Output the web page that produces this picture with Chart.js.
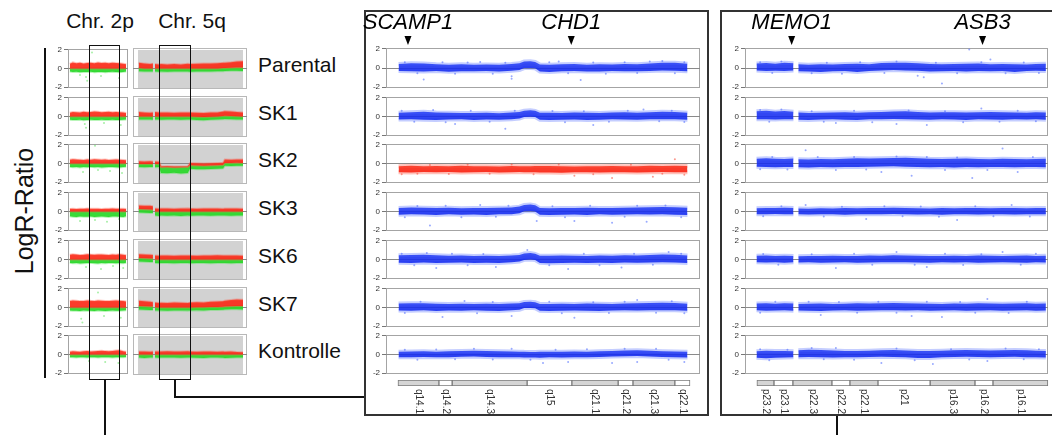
<!DOCTYPE html>
<html>
<head>
<meta charset="utf-8">
<script src="https://cdn.jsdelivr.net/npm/chart.js@4.4.1/dist/chart.umd.min.js"></script>
<style>
body{margin:0;width:1052px;height:435px;overflow:hidden;background:#fff;position:relative;font-family:"Liberation Sans",Arial,sans-serif;color:#111}
canvas{position:absolute}
.txt{position:absolute;white-space:nowrap;line-height:1}
.ln{position:absolute;background:#111}
.box{position:absolute;box-sizing:border-box}
</style>
</head>
<body>
<script>
// ==========================
// DATA
// ==========================
const rowNames = ["Parental","SK1","SK2","SK3","SK6","SK7","Kontrolle"];
const yTicks = [-2, 0, 2];
const columnTitles = ["Chr. 2p","Chr. 5q"];

// zoom panel 5q (middle)
const midGenes = ["SCAMP1","CHD1"];
const midGenePos = [7.0, 59.0];
const midBands = ["q14.1","q14.2","q14.3","q15","q21.1","q21.2","q21.3","q22.1"];
const midBandStart = [3.8,16.8,21.0,44.8,59.0,73.7,78.4,91.7];
const midBandEnd = [16.8,21.0,44.8,59.0,73.7,78.4,91.7,96.5];
const midBandGrey = [1,0,1,0,1,0,1,0];
const midPos = [4,8,12,16,20,24,28,32,36,40,42.5,44,46,47.5,49,52,56,60,64,68,72,76,80,84,88,92,96];
const midHi = [
  [0.42,0.50,0.48,0.40,0.36,0.40,0.34,0.38,0.36,0.42,0.50,0.68,0.72,0.65,0.38,0.36,0.40,0.42,0.35,0.40,0.38,0.42,0.40,0.48,0.55,0.56,0.45],
  [0.40,0.45,0.50,0.42,0.40,0.38,0.36,0.40,0.35,0.42,0.48,0.62,0.66,0.60,0.40,0.40,0.38,0.42,0.40,0.38,0.42,0.45,0.40,0.45,0.50,0.48,0.40],
  [-0.28,-0.25,-0.30,-0.26,-0.28,-0.24,-0.30,-0.28,-0.32,-0.26,-0.28,-0.30,-0.28,-0.27,-0.26,-0.26,-0.30,-0.32,-0.28,-0.30,-0.26,-0.30,-0.28,-0.24,-0.26,-0.25,-0.26],
  [0.38,0.42,0.40,0.36,0.40,0.35,0.38,0.36,0.40,0.42,0.52,0.70,0.74,0.66,0.36,0.35,0.36,0.38,0.40,0.36,0.38,0.40,0.42,0.45,0.48,0.45,0.40],
  [0.45,0.48,0.50,0.45,0.40,0.42,0.38,0.40,0.38,0.42,0.48,0.64,0.68,0.60,0.40,0.40,0.42,0.40,0.38,0.42,0.40,0.45,0.42,0.48,0.52,0.50,0.42],
  [0.42,0.45,0.44,0.40,0.38,0.40,0.36,0.40,0.38,0.42,0.46,0.58,0.62,0.56,0.38,0.38,0.40,0.38,0.42,0.40,0.38,0.42,0.45,0.48,0.50,0.48,0.40],
  [0.30,0.32,0.35,0.30,0.34,0.38,0.40,0.36,0.34,0.32,0.30,0.28,0.27,0.26,0.28,0.28,0.30,0.32,0.30,0.35,0.38,0.42,0.45,0.40,0.35,0.32,0.28]
];
const midLo = [
  [-0.30,-0.32,-0.36,-0.30,-0.38,-0.32,-0.34,-0.30,-0.36,-0.28,-0.20,0.00,0.02,-0.02,-0.35,-0.40,-0.34,-0.30,-0.35,-0.36,-0.30,-0.34,-0.32,-0.30,-0.26,-0.28,-0.34],
  [-0.32,-0.30,-0.34,-0.36,-0.32,-0.30,-0.36,-0.32,-0.34,-0.30,-0.22,-0.04,-0.02,-0.06,-0.34,-0.36,-0.34,-0.32,-0.36,-0.34,-0.30,-0.32,-0.35,-0.30,-0.28,-0.30,-0.34],
  [-0.92,-0.95,-0.90,-0.94,-0.90,-0.96,-0.92,-0.90,-0.95,-0.92,-0.90,-0.94,-0.92,-0.93,-0.95,-0.95,-0.98,-0.94,-0.92,-0.96,-0.94,-0.92,-0.95,-0.92,-0.90,-0.92,-0.92],
  [-0.34,-0.30,-0.32,-0.36,-0.30,-0.34,-0.32,-0.36,-0.30,-0.28,-0.18,0.02,0.06,0.00,-0.34,-0.38,-0.34,-0.32,-0.36,-0.30,-0.34,-0.32,-0.30,-0.32,-0.30,-0.34,-0.36],
  [-0.34,-0.36,-0.32,-0.38,-0.35,-0.32,-0.36,-0.34,-0.38,-0.30,-0.22,-0.04,0.00,-0.06,-0.36,-0.40,-0.36,-0.34,-0.38,-0.34,-0.36,-0.32,-0.34,-0.32,-0.30,-0.32,-0.36],
  [-0.32,-0.34,-0.30,-0.36,-0.32,-0.34,-0.30,-0.34,-0.36,-0.30,-0.24,-0.06,-0.04,-0.08,-0.34,-0.36,-0.34,-0.32,-0.34,-0.36,-0.32,-0.30,-0.32,-0.30,-0.28,-0.30,-0.34],
  [-0.28,-0.30,-0.26,-0.30,-0.28,-0.24,-0.22,-0.26,-0.28,-0.30,-0.30,-0.31,-0.32,-0.33,-0.34,-0.30,-0.32,-0.30,-0.28,-0.26,-0.22,-0.18,-0.16,-0.22,-0.26,-0.30,-0.32]
];
const midOut = [
  [[6,0.62],[10,-0.55],[12,-1.2],[18,0.6],[22,-0.58],[26,0.58],[30,0.65],[34,-0.6],[38,0.55],[40,-0.85],[40,-1.1],[52,0.6],[55,0.7],[58,-0.55],[62,-1.25],[66,0.58],[70,-0.6],[76,0.62],[80,-0.52],[84,0.7],[88,0.75],[92,-0.55],[95,0.6]],
  [[5,0.6],[9,-0.55],[15,0.7],[19,-0.6],[22,-0.8],[27,0.62],[33,-0.55],[38,-1.3],[41,0.6],[53,0.58],[57,-0.6],[63,0.55],[66,-0.9],[71,-0.55],[77,0.6],[82,0.75],[87,-0.5],[91,0.62],[95,-0.58]],
  [[5,-1.15],[10,-1.1],[14,-0.15],[20,-1.12],[26,-0.12],[33,-1.1],[40,-0.1],[47,-1.15],[55,-0.1],[60,-1.3],[66,-1.15],[72,-1.55],[78,-0.12],[85,-1.4],[88,-1.1],[92,0.45],[95,-1.2]],
  [[6,-0.6],[10,0.58],[14,-1.5],[19,0.6],[24,-0.62],[30,0.7],[35,-0.55],[39,0.6],[48,-1.0],[53,0.55],[57,-0.6],[60,-1.0],[65,0.6],[72,-1.2],[76,-0.55],[80,0.62],[83,-1.1],[89,0.65],[94,-0.6]],
  [[5,0.62],[9,-0.6],[13,0.68],[16,-0.9],[21,0.6],[26,-0.62],[31,0.58],[35,-0.8],[45,1.0],[52,-0.6],[58,-1.0],[63,0.6],[68,-0.6],[75,-0.85],[79,0.62],[85,-0.55],[90,0.8],[94,0.6]],
  [[6,-0.58],[11,0.6],[18,-1.0],[25,0.7],[29,-0.6],[34,0.58],[40,-0.9],[52,0.6],[56,-0.62],[60,-1.1],[66,0.55],[71,-0.58],[76,0.6],[80,0.8],[86,-0.55],[91,0.66],[95,-0.6]],
  [[6,0.5],[10,-0.55],[16,0.52],[22,-0.5],[28,0.6],[34,-0.52],[40,0.6],[46,-0.55],[50,-0.9],[54,0.5],[58,-0.8],[64,0.55],[72,-0.9],[76,0.62],[80,-0.8],[86,0.6],[90,-0.55],[95,-0.8]]
];

// zoom panel 2p (right)
const rightGenes = ["MEMO1","ASB3"];
const rightGenePos = [15.4, 78.4];
const rightBands = ["p23.2","p23.1","p22.3","p22.2","p22.1","p21","p16.3","p16.2","p16.1"];
const rightBandStart = [3.9,9.5,15.7,28.5,34.4,43.6,60.7,75.4,81.3];
const rightBandEnd = [9.5,15.7,28.5,34.4,43.6,60.7,75.4,81.3,99.3];
const rightBandGrey = [1,0,1,0,1,0,1,0,1];
const rightPos = [3.8,7,10,13,16,16.8,17.6,21,25,29,33,37,41,45,49,53,57,61,65,69,73,77,81,85,89,93,96,99.3];
const rightHi = [
  [0.48,0.52,0.45,0.55,0.50,null,0.40,0.36,0.40,0.38,0.42,0.45,0.40,0.52,0.56,0.55,0.50,0.42,0.40,0.42,0.45,0.48,0.40,0.44,0.40,0.38,0.42,0.45],
  [0.55,0.60,0.52,0.58,0.50,null,0.42,0.38,0.40,0.42,0.45,0.40,0.44,0.48,0.52,0.55,0.48,0.42,0.44,0.46,0.42,0.45,0.48,0.45,0.42,0.40,0.44,0.42],
  [0.50,0.55,0.50,0.48,0.52,null,0.45,0.42,0.48,0.45,0.50,0.55,0.52,0.55,0.58,0.60,0.55,0.50,0.48,0.50,0.52,0.48,0.45,0.50,0.48,0.45,0.48,0.50],
  [0.35,0.38,0.36,0.40,0.36,null,0.32,0.30,0.34,0.32,0.36,0.34,0.38,0.36,0.40,0.38,0.34,0.32,0.36,0.34,0.38,0.36,0.34,0.38,0.36,0.34,0.36,0.38],
  [0.40,0.42,0.38,0.40,0.38,null,0.34,0.36,0.38,0.40,0.36,0.38,0.42,0.40,0.44,0.42,0.40,0.38,0.36,0.40,0.38,0.42,0.40,0.38,0.40,0.42,0.38,0.40],
  [0.42,0.45,0.40,0.44,0.42,null,0.38,0.40,0.42,0.38,0.40,0.44,0.42,0.45,0.48,0.46,0.42,0.40,0.38,0.42,0.40,0.44,0.42,0.40,0.42,0.44,0.40,0.42],
  [0.35,0.40,0.36,0.38,0.34,null,0.45,0.50,0.48,0.42,0.38,0.36,0.40,0.45,0.48,0.42,0.38,0.36,0.40,0.45,0.48,0.46,0.42,0.45,0.48,0.44,0.40,0.38]
];
const rightLo = [
  [-0.26,-0.30,-0.28,-0.30,-0.25,null,-0.32,-0.36,-0.40,-0.34,-0.30,-0.40,-0.30,-0.24,-0.20,-0.25,-0.28,-0.36,-0.34,-0.30,-0.36,-0.30,-0.34,-0.30,-0.40,-0.30,-0.28,-0.30],
  [-0.28,-0.30,-0.32,-0.28,-0.30,null,-0.34,-0.36,-0.32,-0.30,-0.34,-0.36,-0.30,-0.28,-0.26,-0.28,-0.32,-0.34,-0.30,-0.32,-0.36,-0.30,-0.32,-0.34,-0.30,-0.32,-0.30,-0.34],
  [-0.35,-0.38,-0.40,-0.36,-0.38,null,-0.40,-0.42,-0.38,-0.40,-0.36,-0.38,-0.34,-0.32,-0.30,-0.34,-0.36,-0.40,-0.38,-0.42,-0.38,-0.40,-0.36,-0.38,-0.40,-0.36,-0.38,-0.40],
  [-0.28,-0.30,-0.26,-0.28,-0.30,null,-0.30,-0.32,-0.28,-0.30,-0.34,-0.30,-0.28,-0.30,-0.26,-0.28,-0.32,-0.30,-0.34,-0.30,-0.28,-0.32,-0.30,-0.28,-0.32,-0.30,-0.28,-0.30],
  [-0.30,-0.32,-0.30,-0.34,-0.30,null,-0.32,-0.30,-0.34,-0.32,-0.30,-0.34,-0.32,-0.30,-0.28,-0.30,-0.32,-0.34,-0.30,-0.32,-0.30,-0.34,-0.32,-0.30,-0.32,-0.34,-0.30,-0.32],
  [-0.30,-0.34,-0.32,-0.30,-0.34,null,-0.32,-0.34,-0.36,-0.32,-0.30,-0.34,-0.32,-0.30,-0.28,-0.32,-0.30,-0.34,-0.32,-0.30,-0.34,-0.32,-0.30,-0.34,-0.32,-0.30,-0.34,-0.32],
  [-0.35,-0.40,-0.34,-0.32,-0.30,null,-0.28,-0.26,-0.30,-0.32,-0.30,-0.28,-0.26,-0.24,-0.26,-0.30,-0.36,-0.38,-0.30,-0.26,-0.24,-0.26,-0.28,-0.26,-0.24,-0.28,-0.30,-0.32]
];
const rightOut = [
  [[5,0.62],[9,-0.5],[12,0.7],[22,-0.55],[27,0.55],[32,-0.6],[38,0.6],[46,-0.5],[50,0.68],[57,-0.8],[59,-0.95],[63,0.55],[65,-1.6],[70,-0.55],[74,1.95],[78,0.6],[81,0.9],[86,-0.55],[92,0.58],[97,-0.5]],
  [[5,0.7],[8,-0.55],[12,0.75],[22,0.55],[26,-0.55],[30,-0.7],[36,0.6],[42,-0.6],[50,-0.8],[54,0.65],[60,-0.9],[66,0.55],[72,-0.6],[78,0.85],[84,-0.55],[90,0.6],[96,-0.5]],
  [[5,-0.6],[9,0.7],[14,-0.65],[20,1.4],[24,0.68],[30,-0.7],[36,0.7],[40,-0.65],[45,-0.9],[50,0.75],[55,-1.3],[60,0.7],[66,-0.7],[70,0.65],[75,-1.55],[80,-0.68],[85,1.6],[90,-0.9],[95,0.7]],
  [[6,-0.5],[12,0.55],[20,0.7],[26,-0.52],[32,0.5],[40,-0.8],[46,0.55],[52,-0.5],[58,0.52],[64,-0.55],[70,-0.9],[76,0.55],[82,-0.5],[88,0.7],[94,-0.52]],
  [[6,0.58],[11,-0.55],[22,0.55],[30,-0.9],[36,0.6],[42,-0.55],[50,0.8],[56,-0.55],[60,-0.8],[66,0.6],[72,-0.58],[78,0.55],[85,0.8],[91,-0.55],[96,0.6]],
  [[5,-0.55],[10,0.6],[21,0.62],[25,-0.8],[31,0.58],[37,-0.55],[44,0.6],[50,-0.55],[55,-0.9],[60,0.62],[65,-1.0],[71,0.58],[76,-0.55],[80,0.9],[87,-0.58],[93,0.6]],
  [[5,0.55],[8,-0.6],[14,0.5],[22,0.68],[26,-0.5],[30,0.7],[36,-0.55],[45,-0.9],[50,0.65],[56,-0.6],[62,-1.0],[68,0.55],[74,-0.52],[80,-0.7],[86,0.65],[92,-0.5],[97,0.55]]
];

// overview chr 2p (small, left)
const p2Pos = [3,8,14,20,26,32,38,44,50,56,62,68,74,80,86,92,97];
const p2Base = [0,0,0,0,0,0,0,0,0,0,0,0,0,0,0,0,0];
const p2Top = [
  [0.50,0.65,0.55,0.60,0.52,0.58,0.62,0.55,0.65,0.58,0.60,0.55,0.62,0.58,0.55,0.50,0.45],
  [0.40,0.48,0.45,0.42,0.50,0.45,0.48,0.52,0.50,0.45,0.48,0.50,0.46,0.48,0.44,0.42,0.38],
  [0.40,0.45,0.42,0.40,0.38,0.42,0.40,0.44,0.42,0.40,0.42,0.38,0.40,0.42,0.40,0.38,0.35],
  [0.28,0.30,0.26,0.30,0.28,0.32,0.30,0.28,0.30,0.26,0.28,0.30,0.32,0.30,0.28,0.30,0.26],
  [0.50,0.55,0.52,0.48,0.50,0.55,0.52,0.50,0.54,0.52,0.50,0.48,0.52,0.50,0.55,0.50,0.45],
  [0.70,0.75,0.72,0.68,0.70,0.75,0.72,0.70,0.74,0.72,0.70,0.68,0.72,0.75,0.72,0.70,0.65],
  [0.30,0.35,0.32,0.30,0.34,0.38,0.32,0.35,0.38,0.40,0.36,0.34,0.38,0.42,0.45,0.35,0.30]
];
const p2Bot = [
  [-0.32,-0.38,-0.35,-0.40,-0.36,-0.38,-0.35,-0.40,-0.38,-0.36,-0.40,-0.38,-0.35,-0.38,-0.40,-0.36,-0.32],
  [-0.34,-0.36,-0.38,-0.35,-0.40,-0.36,-0.34,-0.38,-0.36,-0.35,-0.38,-0.36,-0.34,-0.38,-0.36,-0.35,-0.32],
  [-0.36,-0.40,-0.38,-0.42,-0.38,-0.40,-0.36,-0.40,-0.38,-0.42,-0.40,-0.38,-0.36,-0.40,-0.42,-0.38,-0.35],
  [-0.50,-0.55,-0.58,-0.52,-0.56,-0.55,-0.52,-0.58,-0.55,-0.52,-0.56,-0.58,-0.54,-0.52,-0.55,-0.58,-0.50],
  [-0.36,-0.40,-0.38,-0.42,-0.40,-0.38,-0.36,-0.40,-0.42,-0.38,-0.40,-0.38,-0.36,-0.40,-0.38,-0.40,-0.35],
  [-0.32,-0.35,-0.34,-0.36,-0.32,-0.35,-0.34,-0.36,-0.32,-0.35,-0.36,-0.34,-0.32,-0.35,-0.34,-0.32,-0.30],
  [-0.28,-0.30,-0.32,-0.28,-0.30,-0.32,-0.30,-0.28,-0.32,-0.30,-0.28,-0.30,-0.32,-0.30,-0.28,-0.30,-0.26]
];
const p2Out = [
  [[30,-0.9],[32,-1.3],[55,-0.8],[85,-1.0],[20,-0.7],[40,1.7]],
  [[28,-0.8],[30,-1.2],[60,-0.7],[88,-0.9]],
  [[25,-0.9],[50,-0.7],[70,-0.8],[90,-1.0],[45,1.9]],
  [[20,-1.0],[45,-0.9],[65,-1.1],[85,-0.8]],
  [[30,-0.8],[55,-1.0],[75,-0.7],[92,-0.9]],
  [[22,-1.2],[24,-1.6],[60,-0.9],[88,-1.1],[50,1.6]],
  [[35,-0.7],[62,-0.8],[84,-0.9]]
];

// overview chr 5q (small, left)
const q5Pos = [5,10,15,17.5,18.4,19.3,23,24.5,30,36,42,48,50,56,62,68,74,79,80.5,86,91,96.5];
const q5Top = [
  [0.60,0.50,0.45,0.50,null,0.45,0.42,0.45,0.40,0.45,0.42,0.48,0.45,0.48,0.52,0.50,0.55,0.58,0.60,0.65,0.72,0.75],
  [0.45,0.40,0.38,0.42,null,0.45,0.40,0.42,0.40,0.38,0.40,0.42,0.40,0.38,0.36,0.40,0.42,0.50,0.55,0.50,0.45,0.42],
  [0.22,0.20,0.22,0.20,null,0.20,0.18,-0.30,-0.28,-0.30,-0.32,-0.30,0.05,0.02,0.00,0.02,0.05,0.08,0.40,0.38,0.42,0.40],
  [0.62,0.60,0.58,0.55,null,0.30,0.28,0.30,0.32,0.28,0.30,0.32,0.30,0.28,0.30,0.32,0.30,0.28,0.30,0.32,0.30,0.28],
  [0.55,0.50,0.48,0.45,null,0.40,0.38,0.40,0.42,0.38,0.40,0.42,0.40,0.38,0.40,0.42,0.44,0.42,0.40,0.42,0.40,0.38],
  [0.70,0.65,0.60,0.55,null,0.50,0.45,0.48,0.45,0.50,0.48,0.45,0.50,0.55,0.52,0.58,0.62,0.65,0.70,0.78,0.82,0.80],
  [0.32,0.30,0.28,0.30,null,0.30,0.32,0.30,0.34,0.32,0.30,0.34,0.30,0.28,0.30,0.32,0.28,0.30,0.28,0.30,0.26,0.24]
];
const q5Base = [
  [0.05,0,0,0,null,0,0,0,0,0,0,0,0,0,0,0,0,0.05,0.05,0.08,0.10,0.10],
  [0,0,0,0,null,0,0,0,0,0,0,0,0,-0.02,-0.05,-0.02,0,0.05,0.08,0.06,0.02,0],
  [-0.05,-0.05,-0.05,-0.05,null,-0.05,-0.05,-0.38,-0.36,-0.40,-0.38,-0.36,-0.18,-0.20,-0.22,-0.20,-0.18,-0.15,0.05,0.05,0.08,0.05],
  [0.25,0.22,0.20,0.18,null,0,0,0,0,0,0,0,0,0,0,0,0,0,0,0,0,0],
  [0.15,0.12,0.10,0.10,null,0,0,0,0,0,0,0,0,0,0,0,0,0,0,0,0,0],
  [0.15,0.12,0.10,0.10,null,0.02,0,0,0,0,0,0,0,0.02,0.02,0.05,0.05,0.08,0.10,0.12,0.15,0.15],
  [0,0,0,0,null,0,0,0,0,0,0,0,0,0,0,0,0,0,0,0,0,0]
];
const q5Bot = [
  [-0.28,-0.32,-0.30,-0.32,null,-0.30,-0.34,-0.30,-0.34,-0.30,-0.32,-0.30,-0.34,-0.30,-0.32,-0.30,-0.28,-0.28,-0.25,-0.24,-0.24,-0.26],
  [-0.30,-0.32,-0.30,-0.34,null,-0.30,-0.32,-0.34,-0.30,-0.32,-0.34,-0.30,-0.32,-0.36,-0.38,-0.34,-0.30,-0.28,-0.26,-0.28,-0.30,-0.32],
  [-0.35,-0.38,-0.35,-0.36,null,-0.38,-0.36,-0.98,-1.00,-0.95,-1.02,-0.98,-0.55,-0.58,-0.60,-0.56,-0.55,-0.50,-0.22,-0.25,-0.22,-0.24],
  [-0.10,-0.12,-0.15,-0.15,null,-0.42,-0.45,-0.40,-0.44,-0.42,-0.45,-0.40,-0.44,-0.42,-0.40,-0.44,-0.42,-0.40,-0.42,-0.44,-0.40,-0.42],
  [-0.20,-0.22,-0.25,-0.25,null,-0.35,-0.38,-0.35,-0.36,-0.38,-0.35,-0.36,-0.38,-0.35,-0.36,-0.38,-0.35,-0.36,-0.35,-0.38,-0.35,-0.36],
  [-0.20,-0.22,-0.25,-0.25,null,-0.30,-0.32,-0.30,-0.34,-0.32,-0.30,-0.32,-0.30,-0.28,-0.30,-0.26,-0.25,-0.22,-0.20,-0.18,-0.18,-0.20],
  [-0.32,-0.35,-0.32,-0.30,null,-0.32,-0.34,-0.32,-0.30,-0.32,-0.34,-0.32,-0.30,-0.34,-0.36,-0.32,-0.30,-0.34,-0.36,-0.34,-0.32,-0.30]
];

// ==========================
// LAYOUT
// ==========================
const FRAME_TOPS = [48, 96, 143, 191, 239, 287, 334];
const FRAME_H = 41;
const FONT = '"Liberation Sans", Arial, sans-serif';
Chart.defaults.font.family = FONT;

const BLUE = "rgba(22,44,240,0.88)", BLUE_EDGE = "rgba(70,100,255,0.32)", BLUE_DOT = "rgba(70,100,255,0.55)";
const RED = "rgba(250,38,20,0.9)", RED_EDGE = "rgba(255,80,60,0.35)", RED_DOT = "rgba(250,70,50,0.55)";
const GREEN = "rgba(40,215,40,0.92)", GREEN_EDGE = "rgba(80,230,80,0.4)", GREEN_DOT = "rgba(60,220,60,0.45)";

function addCanvas(left, top, w, h){
  const c = document.createElement("canvas");
  c.width = w; c.height = h;
  c.style.left = left + "px"; c.style.top = top + "px";
  document.body.appendChild(c);
  return c;
}

function div(cls, css, text){
  const d = document.createElement("div");
  d.className = cls;
  Object.assign(d.style, css);
  if(text) d.textContent = text;
  document.body.appendChild(d);
  return d;
}

// frame + optional grey inner field
const framePlugin = {
  id: "frame",
  beforeDraw(chart, args, o){
    if(!o || !o.style) return;
    const a = chart.chartArea, ctx = chart.ctx;
    ctx.save();
    if(o.style === "grey"){
      ctx.fillStyle = "#ffffff"; ctx.fillRect(a.left, a.top, a.width, a.height);
      ctx.fillStyle = "#d2d2d2"; ctx.fillRect(a.left + 5, a.top + 2, a.width - 9, a.height - 3);
    }
    ctx.strokeStyle = o.style === "grey" ? "#b8b8b8" : "#a4a4a4";
    ctx.lineWidth = 1;
    ctx.strokeRect(Math.round(a.left) + 0.5, Math.round(a.top) + 0.5, Math.round(a.width) - 1, Math.round(a.height) - 1);
    ctx.restore();
  }
};

// gene names with arrows above the first row
const genePlugin = {
  id: "genes",
  afterDraw(chart, args, o){
    if(!o || !o.names) return;
    const ctx = chart.ctx, xs = chart.scales.x;
    ctx.save();
    ctx.fillStyle = "#000";
    ctx.font = "italic 22px " + FONT;
    ctx.textAlign = "center";
    o.names.forEach((n, i) => {
      const x = xs.getPixelForValue(o.pos[i]);
      ctx.fillText(n, x, 29);
      ctx.beginPath();
      ctx.moveTo(x - 3.5, 36); ctx.lineTo(x + 3.5, 36); ctx.lineTo(x, 45);
      ctx.closePath(); ctx.fill();
    });
    ctx.restore();
  }
};

// band names under the ideogram
const bandLabelPlugin = {
  id: "bandNames",
  afterDraw(chart, args, o){
    if(!o || !o.names) return;
    const ctx = chart.ctx, xs = chart.scales.x, a = chart.chartArea;
    ctx.save();
    ctx.fillStyle = "#333";
    ctx.font = "10px " + FONT;
    ctx.textAlign = "left"; ctx.textBaseline = "middle";
    o.names.forEach((n, i) => {
      const x = xs.getPixelForValue((o.starts[i] + o.ends[i]) / 2);
      ctx.save();
      ctx.translate(x, a.bottom + 3);
      ctx.rotate(Math.PI / 2);
      ctx.fillText(n, 0, 0);
      ctx.restore();
    });
    ctx.restore();
  }
};

function band(pos, hi, lo, fill, edge, w){
  const pts = arr => pos.map((x, i) => ({x, y: arr[i]}));
  return [
    {data: pts(hi), fill: "+1", backgroundColor: fill, borderColor: edge, borderWidth: w, pointRadius: 0, tension: 0},
    {data: pts(lo), fill: false, borderColor: edge, borderWidth: w, pointRadius: 0, tension: 0}
  ];
}

function dots(list, color, r){
  return {data: list.map(p => ({x: p[0], y: p[1]})), showLine: false, pointRadius: r,
          pointBackgroundColor: color, pointBorderWidth: 0, borderWidth: 0};
}

function trackChart(left, width, row, padL, padR, yWidth, showTicks, datasets, frameStyle, genes){
  const ft = FRAME_TOPS[row];
  const top = genes ? 0 : ft - 6;
  const padT = ft - top;
  const c = addCanvas(left, top, width, padT + FRAME_H + 6);
  return new Chart(c, {
    type: "line",
    data: {datasets},
    options: {
      responsive: false, animation: false, events: [],
      layout: {padding: {left: padL, right: padR, top: padT, bottom: 6}},
      plugins: {legend: {display: false}, tooltip: {enabled: false},
                frame: {style: frameStyle}, genes: genes || {}},
      scales: {
        x: {type: "linear", min: 0, max: 100, display: false},
        y: {
          min: -2.1, max: 2.1,
          afterBuildTicks: s => { s.ticks = yTicks.map(v => ({value: v})); },
          afterFit: s => { s.width = yWidth; },
          ticks: {display: showTicks, font: {size: 8}, color: "#333", padding: 2},
          grid: {color: ctx => (ctx.tick && ctx.tick.value === 0) ? "#8a8a8a" : "rgba(0,0,0,0)",
                 drawTicks: showTicks, tickLength: 4, tickColor: "#777", lineWidth: 1},
          border: {display: false}
        }
      }
    },
    plugins: [framePlugin, genePlugin]
  });
}

function ideogram(left, width, padL, padR, names, starts, ends, grey){
  const c = addCanvas(left, 378, width, 40);
  return new Chart(c, {
    type: "bar",
    data: {
      labels: ["band"],
      datasets: names.map((n, i) => ({
        label: n, data: [[starts[i], ends[i]]],
        backgroundColor: grey[i] ? "#d5d5d5" : "#ffffff",
        borderColor: "#7a7a7a", borderWidth: 1, borderSkipped: false,
        grouped: false, barPercentage: 1, categoryPercentage: 1
      }))
    },
    options: {
      indexAxis: "y", responsive: false, animation: false, events: [],
      layout: {padding: {left: padL, right: padR, top: 2, bottom: 32}},
      plugins: {legend: {display: false}, tooltip: {enabled: false},
                bandNames: {names, starts, ends}},
      scales: {x: {type: "linear", min: 0, max: 100, display: false}, y: {display: false}}
    },
    plugins: [bandLabelPlugin]
  });
}

// ==========================
// BOXES AND TEXT
// ==========================
div("box", {left: "364px", top: "10px", width: "345px", height: "406px", border: "2px solid #333"});
div("box", {left: "720px", top: "10px", width: "334px", height: "406px", border: "2px solid #333"});

div("txt", {left: "100px", top: "10px", fontSize: "21px", transform: "translateX(-50%)"}, columnTitles[0]);
div("txt", {left: "192px", top: "10px", fontSize: "21px", transform: "translateX(-50%)"}, columnTitles[1]);
div("txt", {left: "24px", top: "211px", fontSize: "25px", transform: "translate(-50%,-50%) rotate(-90deg)"}, "LogR-Ratio");
div("ln", {left: "44px", top: "48px", width: "2px", height: "330px"});

// ==========================
// CHARTS
// ==========================
rowNames.forEach((name, r) => {
  div("txt", {left: "258px", top: (FRAME_TOPS[r] + 6) + "px", fontSize: "21px"}, name);

  // small chr 2p
  trackChart(40, 92, r, 6, 2, 22, true, [
    ...band(p2Pos, p2Top[r], p2Base, RED, RED_EDGE, 2),
    ...band(p2Pos, p2Base, p2Bot[r], GREEN, GREEN_EDGE, 2),
    dots(p2Out[r], GREEN_DOT, 1)
  ], "plain");

  // small chr 5q
  trackChart(133, 116, r, 0, 2, 0, false, [
    ...band(q5Pos, q5Top[r], q5Base[r], RED, RED_EDGE, 2),
    ...band(q5Pos, q5Base[r], q5Bot[r], GREEN, GREEN_EDGE, 2)
  ], "grey");

  // middle zoom: a row whose whole cloud sits below zero is a loss -> red
  const mean = midHi[r].reduce((s, v, i) => s + v + midLo[r][i], 0) / (2 * midHi[r].length);
  const loss = mean < -0.3;
  trackChart(360, 344, r, 4, 3, 22, true, [
    ...band(midPos, midHi[r], midLo[r], loss ? RED : BLUE, loss ? RED_EDGE : BLUE_EDGE, 4),
    dots(midOut[r], loss ? RED_DOT : BLUE_DOT, 1)
  ], "plain", r === 0 ? {names: midGenes, pos: midGenePos} : null);

  // right zoom
  trackChart(719, 333, r, 4, 2, 22, true, [
    ...band(rightPos, rightHi[r], rightLo[r], BLUE, BLUE_EDGE, 4),
    dots(rightOut[r], BLUE_DOT, 1)
  ], "plain", r === 0 ? {names: rightGenes, pos: rightGenePos} : null);
});

ideogram(360, 344, 26, 3, midBands, midBandStart, midBandEnd, midBandGrey);
ideogram(719, 333, 26, 2, rightBands, rightBandStart, rightBandEnd, rightBandGrey);

// highlight boxes and connectors
div("box", {left: "89px", top: "45px", width: "31px", height: "335px", border: "1.5px solid #111"});
div("box", {left: "159px", top: "45px", width: "32px", height: "335px", border: "1.5px solid #111"});
div("ln", {left: "104px", top: "379px", width: "1.5px", height: "56px"});
div("ln", {left: "174px", top: "379px", width: "1.5px", height: "19px"});
div("ln", {left: "174px", top: "396px", width: "190px", height: "1.5px"});
div("ln", {left: "836px", top: "416px", width: "1.5px", height: "19px"});
</script>
</body>
</html>
